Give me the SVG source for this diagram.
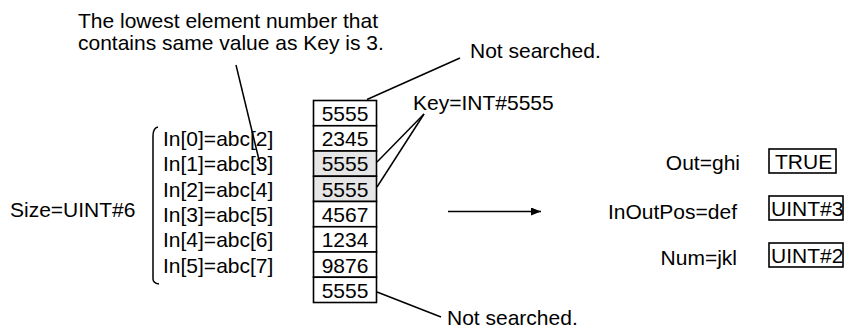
<svg xmlns="http://www.w3.org/2000/svg" width="861" height="331" viewBox="0 0 861 331">
<defs>
<style>
text{font-family:"Liberation Sans",Arial,sans-serif;font-size:21px;fill:#000}
.c{text-anchor:middle}
.r{text-anchor:end}
.cell{fill:#fff;stroke:#000;stroke-width:1.6}
.hl{fill:#e6e6e6}
.ln{fill:none;stroke:#000;stroke-width:1.5}
</style>
<marker id="ah" viewBox="0 0 10 8" refX="10" refY="4" markerWidth="10" markerHeight="8" markerUnits="userSpaceOnUse" orient="auto">
<path d="M0,0 L10,4 L0,8 z" fill="#000"/>
</marker>
</defs>
<rect width="861" height="331" fill="#fff"/>
<g id="note-lowest">
<text x="78" y="28">The lowest element number that</text>
<text x="78" y="50">contains same value as Key is 3.</text>
</g>
<g id="note-top">
<text x="470" y="58">Not searched.</text>
</g>
<g id="note-bottom">
<text x="447" y="325">Not searched.</text>
</g>
<g id="key">
<text x="413" y="110">Key=INT#5555</text>
</g>
<g id="size">
<text x="10" y="217">Size=UINT#6</text>
</g>
<g id="inputs">
<path class="ln" d="M158,127 Q153,128 153,136 L153,279 Q153,283 159,284"/>
<text x="163" y="146">In[0]=abc[2]</text>
<text x="163" y="171">In[1]=abc[3]</text>
<text x="163" y="196.5">In[2]=abc[4]</text>
<text x="163" y="222">In[3]=abc[5]</text>
<text x="163" y="247">In[4]=abc[6]</text>
<text x="163" y="272.5">In[5]=abc[7]</text>
</g>
<g id="array">
<rect class="cell" x="313.5" y="100.5" width="63" height="25.25"/>
<rect class="cell" x="313.5" y="125.75" width="63" height="25.25"/>
<rect class="cell hl" x="313.5" y="151" width="63" height="25.25"/>
<rect class="cell hl" x="313.5" y="176.25" width="63" height="25.25"/>
<rect class="cell" x="313.5" y="201.5" width="63" height="25.25"/>
<rect class="cell" x="313.5" y="226.75" width="63" height="25.25"/>
<rect class="cell" x="313.5" y="252" width="63" height="25.25"/>
<rect class="cell" x="313.5" y="277.25" width="63" height="25.25"/>
<text class="c" x="345" y="120.5">5555</text>
<text class="c" x="345" y="146">2345</text>
<text class="c" x="345" y="171">5555</text>
<text class="c" x="345" y="196.5">5555</text>
<text class="c" x="345" y="222">4567</text>
<text class="c" x="345" y="247">1234</text>
<text class="c" x="345" y="272.5">9876</text>
<text class="c" x="345" y="297.5">5555</text>
</g>
<g id="out">
<text class="r" x="740" y="170">Out=ghi</text>
<rect class="cell" x="769" y="149" width="67" height="24"/>
<text x="775" y="169">TRUE</text>
</g>
<g id="inoutpos">
<text class="r" x="737" y="219">InOutPos=def</text>
<rect class="cell" x="769" y="196" width="74" height="24"/>
<text x="771" y="216">UINT#3</text>
</g>
<g id="num">
<text class="r" x="737" y="265">Num=jkl</text>
<rect class="cell" x="769" y="243" width="74" height="24"/>
<text x="771" y="263">UINT#2</text>
</g>
<g id="connectors">
<line class="ln" x1="236" y1="65" x2="260" y2="164"/>
<line class="ln" x1="367" y1="99.5" x2="460" y2="58"/>
<line class="ln" x1="424" y1="114" x2="377" y2="162"/>
<line class="ln" x1="424" y1="114" x2="377" y2="187"/>
<line class="ln" x1="377" y1="292" x2="441" y2="317"/>
<line class="ln" x1="448" y1="211.5" x2="541" y2="211.5" stroke-width="1.8" marker-end="url(#ah)"/>
</g>
</svg>
